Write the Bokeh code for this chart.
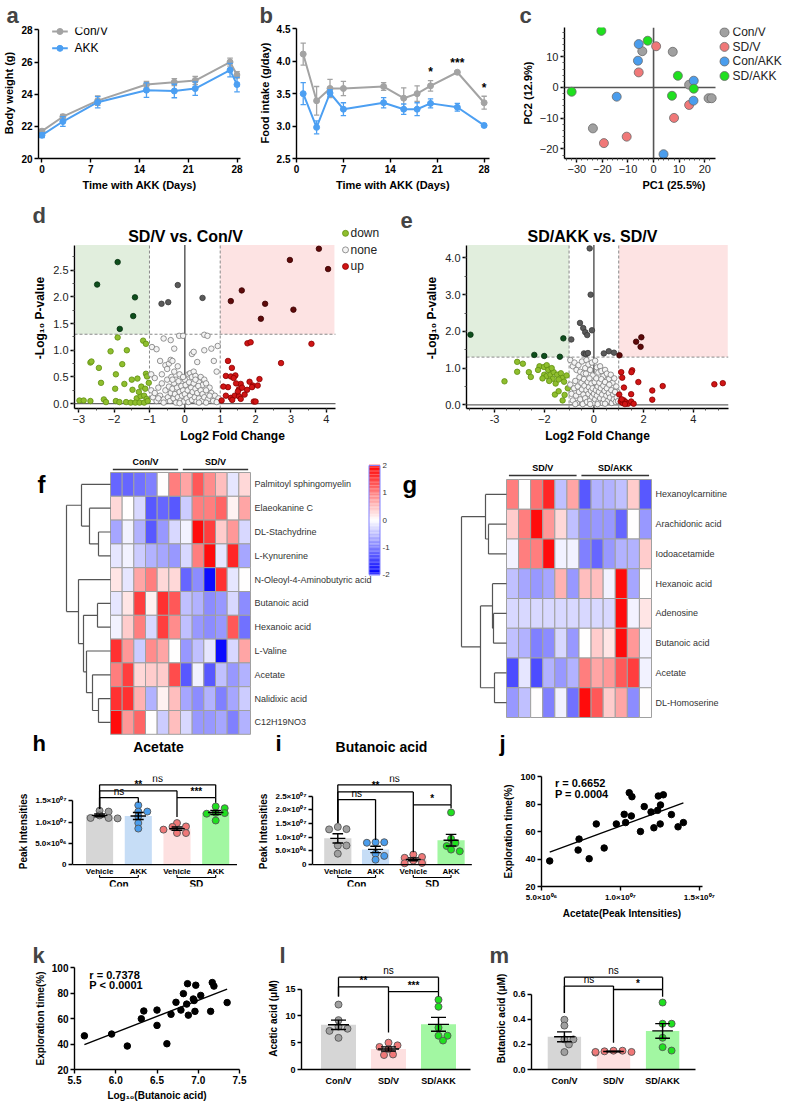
import numpy as np
from bokeh.plotting import figure
from bokeh.layouts import column, row
from bokeh.models import (ColumnDataSource, FixedTicker, LinearColorMapper,
                          BoxAnnotation, Range1d, PrintfTickFormatter)
from bokeh.core.properties import value
from bokeh.embed import file_html
from bokeh.resources import INLINE

FONT = "Liberation Sans"

# ---------------- data ----------------
# (a) body weight
days_a = [0, 3, 8, 15, 19, 22, 27, 28]
bw_conv = [21.7, 22.6, 23.6, 24.6, 24.75, 24.85, 26.0, 25.2]
bw_conv_sem = [0.12, 0.15, 0.3, 0.2, 0.22, 0.25, 0.25, 0.2]
bw_akk = [21.45, 22.3, 23.5, 24.25, 24.2, 24.35, 25.5, 24.6]
bw_akk_sem = [0.15, 0.3, 0.35, 0.45, 0.42, 0.42, 0.42, 0.45]
ab_groups = ["Con/V", "AKK"]

# (b) food intake
days_b = [1, 3, 5, 7, 13, 16, 18, 20, 24, 28]
fi_conv = [4.11, 3.39, 3.58, 3.58, 3.61, 3.43, 3.50, 3.62, 3.83, 3.36]
fi_conv_sem = [0.17, 0.22, 0.14, 0.11, 0.06, 0.16, 0.12, 0.08, 0.02, 0.10]
fi_akk = [3.50, 2.98, 3.51, 3.26, 3.36, 3.26, 3.26, 3.35, 3.29, 3.01]
fi_akk_sem = [0.17, 0.10, 0.05, 0.10, 0.08, 0.08, 0.10, 0.07, 0.06, 0.02]
b_star_days = [20, 24, 28]
b_star_text = ["*", "***", "*"]

# (c) PCA
pca_groups = ["Con/V", "SD/V", "Con/AKK", "SD/AKK"]
pc1 = {
    "Con/V": [-4.4, 7.5, 13.9, 21.5, 22.7, -23.7],
    "SD/V": [1.0, -5.8, 13.9, 8.0, -10.5, -19.4],
    "Con/AKK": [-5.8, -6.1, 15.7, 15.6, -14.4, 3.9],
    "SD/AKK": [-20.4, -2.3, 9.5, 15.7, 7.2, -32.0],
}
pc2 = {
    "Con/V": [11.8, 11.6, 0.9, -3.5, -3.5, -13.3],
    "SD/V": [13.4, 4.9, -5.7, -9.9, -16.0, -18.1],
    "Con/AKK": [14.1, 8.7, 2.2, -4.3, -3.0, -21.7],
    "SD/AKK": [18.4, 15.2, 3.8, -0.4, -2.7, -1.4],
}

# (d) volcano SD/V vs Con/V  (log2FC, -log10 P)
d_down_sig = [(-2.48, 2.23), (-1.90, 2.65), (-1.41, 1.99), (-1.46, 1.64), (-1.84, 1.40)]
d_none_sig = [(-0.20, 2.22), (-0.47, 1.90), (-0.66, 1.87), (0.50, 1.98)]
d_up_sig = [(3.79, 2.90), (2.97, 2.69), (4.05, 2.52), (1.61, 2.12), (1.30, 1.92),
            (2.27, 1.87), (3.07, 1.76), (2.15, 1.59)]
d_down = [(-1.90, 1.24), (-1.18, 1.18), (-1.10, 1.12), (-2.10, 0.98), (-1.64, 1.00),
          (-2.67, 0.77), (-2.64, 0.79), (-1.77, 0.74), (-2.43, 0.67), (-1.95, 0.55),
          (-1.10, 0.56), (-1.07, 0.51), (-1.34, 0.47), (-1.50, 0.45), (-2.37, 0.39),
          (-1.02, 0.39), (-1.71, 0.37), (-1.23, 0.32), (-1.97, 0.28), (-1.48, 0.26),
          (-2.29, 0.08), (-2.98, 0.06), (-2.86, 0.06), (-2.67, 0.05), (-2.23, 0.03),
          (-1.95, 0.05), (-1.85, 0.03), (-1.66, 0.03), (-1.53, 0.02), (-1.36, 0.10),
          (-1.25, 0.14), (-1.15, 0.15), (-1.08, 0.09), (-1.40, 0.02), (-1.28, 0.02),
          (-1.15, 0.02), (-1.05, 0.05), (-1.12, 0.28), (-1.30, 0.22)]
d_up = [(1.77, 1.13), (1.86, 1.15), (3.58, 1.12), (2.72, 0.76), (1.22, 0.80), (1.33, 0.67),
        (1.16, 0.52), (1.30, 0.51), (1.43, 0.53), (1.38, 0.48), (2.11, 0.46), (1.83, 0.41),
        (1.58, 0.37), (1.92, 0.34), (1.90, 0.31), (1.53, 0.27), (1.22, 0.31), (1.09, 0.32),
        (1.76, 0.26), (2.06, 0.34), (1.16, 0.15), (1.30, 0.11), (1.41, 0.15), (1.53, 0.14),
        (1.58, 0.09), (1.69, 0.17), (1.04, 0.06), (1.95, 0.04), (2.00, 0.04), (1.50, 0.23),
        (1.34, 0.07), (1.45, 0.38), (1.62, 0.30)]
d_none = [(-0.16, 1.27), (0.55, 1.29), (0.64, 1.27),
          (-0.93, 1.06), (-0.80, 1.02), (-0.60, 1.22), (-0.40, 1.19), (-0.30, 1.03), (-0.05, 1.27),
          (0.20, 0.93), (0.25, 0.97), (0.35, 0.78), (0.55, 1.00), (0.75, 1.03), (0.82, 0.80),
          (0.93, 1.08), (0.90, 0.60), (-0.95, 0.55), (-0.85, 0.48), (-0.70, 0.80), (-0.65, 0.55),
          (-0.55, 0.72), (-0.50, 0.65), (-0.45, 0.75), (-0.40, 0.82), (-0.35, 0.80), (-0.30, 0.60),
          (-0.25, 0.45), (-0.20, 0.70), (-0.15, 0.55), (-0.10, 0.40), (0.00, 0.45), (0.05, 0.30),
          (0.10, 0.55), (0.15, 0.57), (0.20, 0.50), (0.25, 0.60), (0.30, 0.52), (0.40, 0.40),
          (0.45, 0.50), (0.50, 0.35), (0.55, 0.45), (0.60, 0.38), (0.70, 0.30), (0.75, 0.20),
          (0.85, 0.15), (0.95, 0.10), (-0.95, 0.25), (-0.90, 0.12), (-0.85, 0.20), (-0.80, 0.05),
          (-0.75, 0.30), (-0.70, 0.15), (-0.65, 0.38), (-0.60, 0.08), (-0.55, 0.25), (-0.50, 0.45),
          (-0.48, 0.12), (-0.45, 0.32), (-0.42, 0.05), (-0.40, 0.20), (-0.38, 0.50), (-0.35, 0.28),
          (-0.32, 0.10), (-0.30, 0.38), (-0.28, 0.18), (-0.25, 0.02), (-0.22, 0.30), (-0.20, 0.12),
          (-0.18, 0.42), (-0.15, 0.22), (-0.12, 0.06), (-0.10, 0.33), (-0.08, 0.15), (-0.05, 0.25),
          (-0.03, 0.04), (0.00, 0.18), (0.02, 0.35), (0.05, 0.10), (0.08, 0.25), (0.10, 0.03),
          (0.12, 0.40), (0.15, 0.15), (0.18, 0.30), (0.20, 0.07), (0.22, 0.22), (0.25, 0.38),
          (0.28, 0.12), (0.30, 0.28), (0.33, 0.04), (0.35, 0.20), (0.38, 0.33), (0.40, 0.10),
          (0.45, 0.25), (0.48, 0.05), (0.50, 0.18), (0.55, 0.12), (0.60, 0.25), (0.65, 0.08),
          (0.70, 0.15), (0.80, 0.05), (0.90, 0.03), (-0.60, 0.02), (-0.15, 0.01), (0.40, 0.02),
          (-0.35, 0.45), (-0.05, 0.50), (0.30, 0.45), (-0.75, 0.10), (0.60, 0.02)]
volcano_classes = ["down", "none", "up"]

# (e) volcano SD/AKK vs SD/V
e_down_sig = [(-4.97, 1.91), (-1.23, 1.81), (-2.40, 1.36), (-2.00, 1.33), (-1.37, 1.31)]
e_none_sig = [(-0.17, 4.26), (-0.13, 3.00), (-0.56, 2.23), (-0.43, 2.09), (-0.35, 1.98),
              (-0.27, 1.90), (-0.08, 2.03), (-0.91, 1.78), (-0.40, 1.40), (-0.32, 1.38),
              (-0.24, 1.41), (0.40, 1.40), (0.60, 1.46), (0.81, 1.42)]
e_up_sig = [(1.70, 1.72), (1.91, 1.84), (1.88, 1.58), (1.03, 1.35)]
e_down = [(-3.09, 1.17), (-2.86, 1.12), (-3.09, 0.90), (-2.62, 0.89), (-2.54, 0.76),
          (-3.60, 0.64), (-2.19, 1.05), (-2.01, 1.03), (-1.90, 1.08), (-1.84, 0.95),
          (-2.00, 0.82), (-1.91, 0.78), (-1.75, 0.82), (-1.62, 0.89), (-1.48, 0.82),
          (-1.33, 0.86), (-1.26, 0.73), (-1.54, 0.58), (-1.42, 0.69), (-1.20, 0.63),
          (-1.57, 0.28), (-1.42, 0.37), (-1.18, 0.27), (-1.26, 0.12), (-1.66, 0.71),
          (-2.07, 0.72), (-1.80, 0.65), (-1.10, 0.80), (-1.05, 0.45), (-2.25, 0.95), (-1.70, 1.00)]
e_up = [(1.10, 0.89), (1.54, 0.94), (1.51, 0.89), (1.14, 0.74), (1.79, 0.62), (1.21, 0.47),
        (2.35, 0.39), (2.77, 0.51), (2.35, 0.14), (1.50, 0.29), (4.85, 0.56), (5.19, 0.59),
        (1.02, 0.28), (1.08, 0.09), (1.16, 0.05), (1.21, 0.12), (1.29, 0.07), (1.37, 0.03),
        (1.50, 0.09), (1.60, 0.03), (1.12, 0.15), (1.25, 0.02)]
e_none = [(-0.95, 1.22), (-0.85, 1.05), (-0.78, 1.15), (-0.70, 0.95), (-0.62, 1.08), (-0.55, 0.90),
          (-0.48, 1.18), (-0.42, 0.85), (-0.35, 1.00), (-0.30, 1.22), (-0.22, 1.10), (-0.15, 0.95),
          (-0.08, 1.15), (-0.05, 0.80), (0.05, 1.20), (0.12, 1.02), (0.18, 0.88), (0.25, 1.05),
          (0.30, 0.92), (0.38, 0.78), (0.45, 0.95), (0.52, 0.85), (0.60, 0.70), (0.68, 0.82),
          (0.75, 0.60), (0.82, 0.72), (0.90, 0.50), (0.95, 0.35), (-0.95, 0.55), (-0.90, 0.30),
          (-0.85, 0.12), (-0.80, 0.45), (-0.75, 0.65), (-0.72, 0.25), (-0.68, 0.05), (-0.65, 0.50),
          (-0.60, 0.35), (-0.58, 0.75), (-0.55, 0.15), (-0.50, 0.60), (-0.48, 0.42), (-0.45, 0.02),
          (-0.42, 0.28), (-0.40, 0.70), (-0.38, 0.52), (-0.35, 0.18), (-0.32, 0.85), (-0.30, 0.40),
          (-0.28, 0.08), (-0.25, 0.62), (-0.22, 0.30), (-0.20, 0.48), (-0.18, 0.72), (-0.15, 0.12),
          (-0.12, 0.38), (-0.10, 0.58), (-0.08, 0.22), (-0.05, 0.45), (-0.03, 0.05), (0.00, 0.30),
          (0.03, 0.62), (0.05, 0.15), (0.08, 0.40), (0.10, 0.72), (0.12, 0.25), (0.15, 0.50),
          (0.18, 0.08), (0.20, 0.35), (0.22, 0.60), (0.25, 0.18), (0.28, 0.45), (0.30, 0.70),
          (0.33, 0.28), (0.35, 0.05), (0.38, 0.52), (0.40, 0.15), (0.43, 0.38), (0.45, 0.62),
          (0.50, 0.25), (0.52, 0.45), (0.55, 0.10), (0.60, 0.32), (0.62, 0.55), (0.65, 0.20),
          (0.70, 0.40), (0.72, 0.05), (0.78, 0.28), (0.80, 0.15), (0.85, 0.35), (0.88, 0.08),
          (0.92, 0.20), (0.97, 0.10), (-0.15, 0.02), (0.15, 0.02), (0.45, 0.03), (-0.75, 0.02)]

# (f) heatmap SD/V vs Con/V (z-scores)
f_groups = ["Con/V", "SD/V"]
f_rows = ["Palmitoyl sphingomyelin", "Elaeokanine C", "DL-Stachydrine", "L-Kynurenine",
          "N-Oleoyl-4-Aminobutyric acid", "Butanoic acid", "Hexanoic acid", "L-Valine",
          "Acetate", "Nalidixic acid", "C12H19NO3"]
f_values = [
    [-1.2, -1.2, -1.1, -1.0, 0.0, 1.0, 0.7, 1.3, 0.9, 0.5, -0.2, 0.3],
    [0.3, 0.0, -0.3, -1.3, -1.2, -1.3, -0.4, 1.0, 1.0, 1.2, 0.1, 0.7],
    [-0.7, -0.1, -0.6, -1.3, -0.8, -0.3, -0.1, 1.9, 1.5, 0.4, 0.8, -0.3],
    [-0.2, -0.1, -0.4, -0.6, -0.7, -0.8, -0.3, 1.0, 1.9, -0.2, 1.7, -0.7],
    [0.2, -0.2, 0.7, 1.0, 0.3, 0.3, -1.2, -0.9, -1.9, 1.6, -0.2, 0.0],
    [-0.2, 0.2, 1.5, 0.1, 1.6, 1.3, -0.5, -0.6, -0.9, -0.8, -0.3, -0.9],
    [-0.1, 0.4, 1.0, -0.3, 1.5, 0.9, -0.5, -0.8, -0.9, -0.8, 1.3, -1.1],
    [1.6, 0.8, -0.4, 0.9, 0.7, 0.0, -0.8, -0.5, -0.2, -1.9, -0.3, 0.7],
    [1.0, 1.5, 0.3, 0.4, 0.4, 1.4, -1.3, -0.1, -1.3, -0.5, -0.8, -0.6],
    [1.6, 1.6, 0.6, -0.6, 0.1, 0.5, -0.7, -0.9, -0.6, -1.0, -0.7, -0.4],
    [1.9, 0.8, 1.2, 0.0, -0.4, 0.5, -0.3, -0.8, -0.8, -0.7, -1.0, -0.6],
]
# dendrogram: (merge distance in px, left, right)
f_tree = (44, (29, 0, (21, 1, (12, 2, 3))),
          (32, 4, (27, (13, 5, 6), (24, 7, (18, 8, (12, 9, 10))))))
cbar_ticks = [-2, -1, 0, 1, 2]

# (g) heatmap SD/AKK vs SD/V
g_groups = ["SD/V", "SD/AKK"]
g_rows = ["Hexanoylcarnitine", "Arachidonic acid", "Iodoacetamide", "Hexanoic acid",
          "Adenosine", "Butanoic acid", "Acetate", "DL-Homoserine"]
g_values = [
    [1.0, 0.0, 1.1, 1.7, -0.5, 0.7, -1.3, -0.6, -0.6, -0.5, 0.4, -1.3],
    [0.4, 1.0, 1.9, 0.8, 0.3, -0.5, -0.9, -0.8, -0.8, -1.2, 0.0, -0.8],
    [-0.1, 1.0, 1.0, 1.9, -0.1, -0.1, -1.0, -1.2, -0.8, -0.6, -0.6, 0.4],
    [-0.5, -0.7, -0.8, -0.7, 0.6, -0.8, 0.5, 0.5, -0.1, 1.9, -0.7, 0.0],
    [-0.3, -0.3, -0.3, -0.3, -0.3, -0.3, -0.3, -0.3, -0.3, 1.9, -0.1, 0.2],
    [-0.5, -0.6, -1.0, -0.9, -0.3, -0.8, 0.0, 0.4, 0.2, 1.9, 0.8, -0.1],
    [-1.4, -0.2, -1.4, -0.6, -0.8, -0.6, 1.0, 0.7, 0.8, 1.3, 1.5, -0.1],
    [-0.8, -0.5, 0.0, -1.0, -0.1, -1.1, 1.9, 1.3, 0.4, 0.7, -0.9, 0.0],
]
g_tree = (45, (21, 0, (18, 1, 2)), (26, (14, 3, (13, 4, 5)), (12, 6, 7)))

# (h) acetate peak intensities
h_cats = ["Vehicle", "AKK", "Vehicle", "AKK"]
h_supergroups = ["Con", "SD"]
h_conv = [12.5e6, 12.7e6, 11.6e6, 11.0e6, 10.9e6, 11.0e6]
h_conakk = [14.0e6, 12.5e6, 12.5e6, 11.4e6, 9.8e6, 8.5e6]
h_sdv = [9.8e6, 8.9e6, 9.0e6, 8.25e6, 7.45e6, 7.45e6]
h_sdakk = [13.3e6, 13.7e6, 12.15e6, 12.0e6, 12.2e6, 10.4e6]
h_sig = [(0, 1, 15.8e6, 13.1e6, 14.6e6, "ns"), (0, 2, 17.4e6, 13.1e6, 11.2e6, "**"),
         (2, 3, 15.8e6, 15.8e6, 14.6e6, "***"), (0, 3, 18.8e6, 13.1e6, 15.8e6, "ns")]

# (i) butanoic acid peak intensities
i_conv = [13.8e6, 12.9e6, 13.0e6, 7.0e6, 7.0e6, 4.0e6]
i_conakk = [8.2e6, 8.2e6, 8.0e6, 4.0e6, 3.2e6, 1.8e6]
i_sdv = [3.7e6, 2.8e6, 2.5e6, 1.5e6, 0.6e6, 0.5e6]
i_sdakk = [19.1e6, 9.5e6, 7.9e6, 6.8e6, 4.9e6, 5.5e6]
i_sig = [(0, 1, 23.8e6, 15.2e6, 9.0e6, "ns"), (0, 2, 26.6e6, 15.2e6, 4.5e6, "**"),
         (2, 3, 21.9e6, 21.9e6, 20.6e6, "*"), (0, 3, 29.2e6, 15.2e6, 21.9e6, "ns")]

# (j) acetate vs exploration
acet_x = [5.52e6, 7.32e6, 7.38e6, 8.02e6, 8.47e6, 8.97e6, 9.74e6, 10.24e6, 10.33e6, 10.56e6,
          10.73e6, 10.69e6, 11.27e6, 11.51e6, 11.94e6, 12.12e6, 12.36e6, 12.40e6, 12.54e6,
          12.52e6, 12.72e6, 13.23e6, 13.65e6, 13.99e6]
expl_j = [38.6, 46.5, 54.5, 40.2, 65.5, 48.0, 65.5, 72.5, 66.5, 88.2, 85.3, 71.3, 60.0, 78.1,
          74.2, 62.7, 75.4, 85.8, 79.3, 65.5, 86.7, 72.3, 63.4, 66.5]

# (k) log10 butanoic vs exploration
buty_log = [5.62, 5.95, 6.14, 6.31, 6.34, 6.50, 6.50, 6.62, 6.67, 6.73, 6.79, 6.82, 6.86, 6.87,
            6.88, 6.94, 6.95, 6.96, 6.97, 7.03, 7.15, 7.17, 7.19, 7.35]
expl_k = [46.4, 47.8, 38.4, 59.8, 65.9, 66.6, 54.6, 40.2, 63.3, 72.7, 66.6, 79.5, 71.3, 87.3,
          62.6, 75.3, 74.1, 65.6, 86.1, 78.1, 65.6, 88.2, 85.4, 72.5]

# (l) acetic acid, (m) butanoic acid (uM)
lm_cats = ["Con/V", "SD/V", "SD/AKK"]
l_conv = [12.1, 9.2, 8.0, 7.6, 7.2, 5.9]
l_sdv = [4.5, 5.0, 4.2, 3.8, 2.8, 2.7]
l_sdakk = [13.0, 11.7, 7.8, 6.3, 6.3, 5.4]
l_sig = [(0, 1, 15.4, 13.6, 6.9, "**"), (1, 2, 14.5, 14.5, 13.6, "***"),
         (0, 2, 17.2, 13.6, 14.5, "ns")]
m_conv = [0.397, 0.35, 0.24, 0.24, 0.20, 0.139]
m_sdv = [0.15, 0.145, 0.14, 0.135, 0.14, 0.15]
m_sdakk = [0.534, 0.365, 0.365, 0.253, 0.178, 0.151]
m_sig = [(0, 1, 0.665, 0.45, 0.213, "ns"), (1, 2, 0.638, 0.638, 0.58, "*"),
         (0, 2, 0.736, 0.45, 0.638, "ns")]

# ---------------- style ----------------
GRAY_L = "#a3a3a3"
BLUE_L = "#4c9ff2"
PCA_COL = {"Con/V": "#a0a0a0", "SD/V": "#f07878", "Con/AKK": "#4a9ded", "SD/AKK": "#1fe01f"}
BAR_FILL = {"Con/V": "#d6d6d6", "Con/AKK": "#c6ddf6", "SD/V": "#fde0e0", "SD/AKK": "#a2f7a2"}
PT_FILL = {"Con/V": "#a0a0a0", "Con/AKK": "#4a9ded", "SD/V": "#f07878", "SD/AKK": "#1fe01f"}
VOL_COL = {"down": ("#8fbe2e", "#5f8f10"), "none": ("#f4f4f4", "#7a7a7a"), "up": ("#d01515", "#8a0000")}
VOL_SIG = {"down": ("#0e4f1c", "#063010"), "none": ("#5a5a5a", "#3a3a3a"), "up": ("#5e0a0a", "#3a0000")}
F1 = PrintfTickFormatter(format="%.1f")


def mkfig(w, h, l, r, t, b, xr, yr, **kw):
    p = figure(width=w, height=h, x_range=Range1d(*xr), y_range=Range1d(*yr),
               output_backend="svg", toolbar_location=None,
               min_border_left=l, min_border_right=r, min_border_top=t, min_border_bottom=b, **kw)
    p.outline_line_color = None
    p.xgrid.visible = False
    p.ygrid.visible = False
    p.background_fill_color = "white"
    p.border_fill_color = "white"
    p._fh = h - t - b
    p._fw = w - l - r
    return p


def X(p, px):
    return p.x_range.start + px * (p.x_range.end - p.x_range.start) / p._fw


def Y(p, px):
    return p.y_range.end - px * (p.y_range.end - p.y_range.start) / p._fh


def style_axes(p, tick_size="10px", tick_bold=True, label_size="11px", tick_color="black"):
    for ax in list(p.xaxis) + list(p.yaxis):
        ax.axis_line_width = 1.4
        ax.axis_line_color = "black"
        ax.major_tick_line_width = 1.4
        ax.major_tick_line_color = "black"
        ax.major_tick_in = 0
        ax.major_tick_out = 4
        ax.minor_tick_line_color = None
        ax.major_label_text_font = FONT
        ax.major_label_text_font_size = tick_size
        ax.major_label_text_font_style = "bold" if tick_bold else "normal"
        ax.major_label_text_color = tick_color
        ax.axis_label_text_font = FONT
        ax.axis_label_text_font_size = label_size
        ax.axis_label_text_font_style = "bold"
        ax.axis_label_text_color = "black"
        ax.major_label_standoff = 2
        ax.axis_label_standoff = 3


def minor_on(p):
    for ax in list(p.xaxis) + list(p.yaxis):
        ax.minor_tick_line_color = "#555555"
        ax.minor_tick_out = 2
        ax.minor_tick_in = 0


def letter(p, txt, off):
    p.title.text = txt
    p.title.align = "left"
    p.title.offset = off
    p.title.text_font = FONT
    p.title.text_font_size = "22px"
    p.title.text_font_style = "bold"
    p.title.standoff = 0


def ptext(p, x, y, t, size="10px", style="bold", align="center", baseline="bottom", yoff=0, color="black"):
    p.text(x=x, y=y, text=t, text_font=value(FONT), text_font_size=size, text_font_style=style,
           text_align=align, text_baseline=baseline, y_offset=yoff, text_color=color)


def errbars(p, xs, ys, es, col, capw, lw=1.3):
    xs = np.asarray(xs, float); ys = np.asarray(ys, float); es = np.asarray(es, float)
    p.segment(x0=xs, y0=ys - es, x1=xs, y1=ys + es, line_color=col, line_width=lw)
    for yy in (ys - es, ys + es):
        p.segment(x0=xs - capw / 2, y0=yy, x1=xs + capw / 2, y1=yy, line_color=col, line_width=lw)


def swarm(vals, ppx, ppy, d=7.5):
    vals = np.asarray(vals, float)
    order = np.argsort(-vals)
    placed = []
    offs = np.zeros(len(vals))
    for i in order:
        y = vals[i] * ppy
        x = 0.0
        for k in [0, 1, -1, 2, -2, 3, -3, 4, -4]:
            x = k * d * 0.6
            if all((x - a) ** 2 + (y - b) ** 2 >= d * d * 0.9 for a, b in placed):
                break
        placed.append((x, y))
        offs[i] = x / ppx
    return offs


def bar_panel(p, groups, keys, bw, capw, meanw, ptsize=7):
    ppx = p._fw / (p.x_range.end - p.x_range.start)
    ppy = p._fh / (p.y_range.end - p.y_range.start)
    for x, (vals, key) in enumerate(zip(groups, keys)):
        vals = np.asarray(vals, float)
        m = vals.mean()
        sem = vals.std(ddof=1) / np.sqrt(len(vals))
        p.vbar(x=[x], top=[m], bottom=0, width=bw, fill_color=BAR_FILL[key], line_color=None)
        offs = swarm(vals, ppx, ppy, ptsize + 0.5)
        p.scatter(x + offs, vals, size=ptsize, fill_color=PT_FILL[key], line_color="#555555",
                  line_width=0.9)
        p.segment(x0=[x], y0=[m - sem], x1=[x], y1=[m + sem], line_color="black", line_width=1.4)
        p.segment(x0=[x - capw / 2, x - capw / 2], y0=[m - sem, m + sem],
                  x1=[x + capw / 2, x + capw / 2], y1=[m - sem, m + sem], line_color="black", line_width=1.4)
        p.segment(x0=[x - meanw / 2], y0=[m], x1=[x + meanw / 2], y1=[m], line_color="black", line_width=1.4)


def brackets(p, specs, size="10px"):
    for (i, j, y, yl, yr, lab) in specs:
        p.segment(x0=[i, i, j], y0=[y, y, y], x1=[j, i, j], y1=[y, yl, yr],
                  line_color="black", line_width=1.3)
        st = "normal" if lab == "ns" else "bold"
        ptext(p, [(i + j) / 2], [y], [lab], size=size, style=st, baseline="bottom", yoff=-1)


def manual_cat_axis(p, labels, supergroups):
    ppy = (p.y_range.end - p.y_range.start) / p._fh
    n = len(labels)
    p.segment(x0=[p.x_range.start], y0=[0], x1=[n - 0.45], y1=[0], line_color="black", line_width=1.4)
    ptext(p, list(range(n)), [-4 * ppy] * n, labels, size="8px", baseline="top")
    for gi, g in enumerate(supergroups):
        a, b = 2 * gi, 2 * gi + 1
        p.segment(x0=[a, a, b], y0=[-20 * ppy, -16 * ppy, -16 * ppy], x1=[b, a, b],
                  y1=[-20 * ppy, -20 * ppy, -20 * ppy], line_color="black", line_width=1.2)
        ptext(p, [(a + b) / 2], [-22 * ppy], [g], size="10px", baseline="top")


def sci_label(v):
    sup = str.maketrans("0123456789", "⁰¹²³⁴⁵⁶⁷⁸⁹")
    if v == 0:
        return "0"
    e = int(np.floor(np.log10(v)))
    m = v / 10 ** e
    return f"{m:.1f}×10" + f"{e:02d}".translate(sup)


# ================= row 1 =================
pa = mkfig(255, 200, 33, 15, 26, 42, (-0.5, 28.5), (20, 28.15))
style_axes(pa)
pa.xaxis.ticker = FixedTicker(ticks=[0, 7, 14, 21, 28])
pa.yaxis.ticker = FixedTicker(ticks=[20, 22, 24, 26, 28])
pa.yaxis.bounds = (20, 28)
pa.xaxis.axis_label = "Time with AKK (Days)"
pa.yaxis.axis_label = "Body weight (g)"
for k, (ys_, es_, col) in enumerate([(bw_conv, bw_conv_sem, GRAY_L), (bw_akk, bw_akk_sem, BLUE_L)]):
    errbars(pa, days_a, ys_, es_, col, 0.8)
    pa.line(days_a, ys_, line_color=col, line_width=2)
    pa.scatter(days_a, ys_, size=6, fill_color=col, line_color=col)
    ly = Y(pa, 4 + 17 * k)
    pa.line([X(pa, 14), X(pa, 30)], [ly, ly], line_color=col, line_width=2)
    pa.scatter([X(pa, 22)], [ly], size=6, fill_color=col, line_color=col)
    ptext(pa, [X(pa, 37)], [ly], [ab_groups[k]], size="12px", style="normal", align="left", baseline="middle")
letter(pa, "a", -32)

pb = mkfig(257, 200, 39, 23, 27, 42, (0, 28.8), (2.5, 4.52))
style_axes(pb)
pb.xaxis.ticker = FixedTicker(ticks=[0, 7, 14, 21, 28])
pb.yaxis.ticker = FixedTicker(ticks=[2.5, 3.0, 3.5, 4.0, 4.5])
pb.yaxis.formatter = F1
pb.yaxis.bounds = (2.5, 4.5)
pb.xaxis.axis_label = "Time with AKK (Days)"
pb.yaxis.axis_label = "Food intake (g/day)"
for ys_, es_, col in [(fi_conv, fi_conv_sem, GRAY_L), (fi_akk, fi_akk_sem, BLUE_L)]:
    errbars(pb, days_b, ys_, es_, col, 0.8)
    pb.line(days_b, ys_, line_color=col, line_width=2)
    pb.scatter(days_b, ys_, size=6, fill_color=col, line_color=col)
star_y = [fi_conv[days_b.index(d)] + fi_conv_sem[days_b.index(d)] + 0.02 for d in b_star_days]
ptext(pb, b_star_days, star_y, b_star_text, size="12px", baseline="bottom")
letter(pb, "b", -37)

c_xl, c_xr, c_yb, c_yt = -34.8, 24.2, -23.1, 19.5
pc = mkfig(272, 200, 52, 1, 26, 39, (c_xl, c_xr + 68 * (c_xr - c_xl) / 151), (c_yb, c_yt))
style_axes(pc, tick_size="11px", tick_bold=False, tick_color="#222222")
minor_on(pc)
pc.xaxis.ticker = FixedTicker(ticks=[-30, -20, -10, 0, 10, 20], minor_ticks=list(range(-34, 24, 2)))
pc.yaxis.ticker = FixedTicker(ticks=[-20, -10, 0, 10], minor_ticks=list(range(-22, 20, 2)))
pc.xaxis.bounds = (c_xl, c_xr)
pc.xaxis.axis_label = "PC1 (25.5%)"
pc.yaxis.axis_label = "PC2 (12.9%)"
pc.segment(x0=[0, c_xl], y0=[c_yb, 0], x1=[0, c_xr], y1=[c_yt, 0], line_color="#555555", line_width=1.6)
for k, g in enumerate(pca_groups):
    pc.scatter(pc1[g], pc2[g], size=9, fill_color=PCA_COL[g], line_color="#6a6a6a", line_width=0.8)
    ly = Y(pc, 5 + 15 * k)
    pc.scatter([X(pc, 160)], [ly], size=9, fill_color=PCA_COL[g], line_color="#6a6a6a", line_width=0.8)
    ptext(pc, [X(pc, 168)], [ly], [g], size="12px", style="normal", align="left", baseline="middle",
          color="#222222")
letter(pc, "c", -45)


# ================= row 2 =================
def volcano(p, xl, xr, yb, yt, groups, title, tx):
    p.add_layout(BoxAnnotation(left=xl + 0.04, right=-1, bottom=1.3, top=yt, fill_color="#e1eedd",
                               fill_alpha=1, line_color=None, level="underlay"))
    p.add_layout(BoxAnnotation(left=1, right=xr - 0.03, bottom=1.3, top=yt, fill_color="#fde3e3",
                               fill_alpha=1, line_color=None, level="underlay"))
    p.segment(x0=[-1, 1, xl], y0=[yb, yb, 1.3], x1=[-1, 1, xr], y1=[yt, yt, 1.3],
              line_color="#8a8a8a", line_dash="3 2", line_width=1)
    p.segment(x0=[0], y0=[yb], x1=[0], y1=[yt], line_color="#444444", line_width=1.3)
    p.segment(x0=[xl], y0=[0], x1=[xr], y1=[0], line_color="#666666", line_width=1.3)
    for cls in volcano_classes:
        pts, sig = groups[cls]
        fc, lc = VOL_COL[cls]
        p.scatter([q[0] for q in pts], [q[1] for q in pts], size=5.5, fill_color=fc, line_color=lc,
                  line_width=0.8)
        fc, lc = VOL_SIG[cls]
        p.scatter([q[0] for q in sig], [q[1] for q in sig], size=5.5, fill_color=fc, line_color=lc,
                  line_width=0.8)
    p.xaxis.bounds = (xl, xr)
    p.yaxis.bounds = (yb, yt)
    minor_on(p)
    ptext(p, [X(p, tx)], [Y(p, 0)], [title], size="16px", baseline="top")


d_xl, d_xr, d_yb, d_yt = -3.12, 4.26, -0.09, 2.97
d_ppu = 261 / (d_xr - d_xl)
d_upp = (d_yt - d_yb) / 168
pdv = mkfig(392, 245, 74, 2, 26, 33, (d_xl, d_xr + 55 / d_ppu), (d_yb, d_yt + 18 * d_upp))
style_axes(pdv, tick_size="11px", tick_bold=False, label_size="12px", tick_color="#222222")
pdv.xaxis.ticker = FixedTicker(ticks=[-3, -2, -1, 0, 1, 2, 3, 4],
                               minor_ticks=[-3, -2.5, -2, -1.5, -1, -0.5, 0, 0.5, 1, 1.5, 2, 2.5, 3, 3.5, 4])
pdv.yaxis.ticker = FixedTicker(ticks=[0, 0.5, 1.0, 1.5, 2.0, 2.5],
                               minor_ticks=[0.25 * k for k in range(0, 12)])
pdv.yaxis.formatter = F1
pdv.xaxis.axis_label = "Log2 Fold Change"
pdv.yaxis.axis_label = "-Log₁₀ P-value"
volcano(pdv, d_xl, d_xr, d_yb, d_yt,
        {"down": (d_down, d_down_sig), "none": (d_none, d_none_sig), "up": (d_up, d_up_sig)},
        "SD/V vs. Con/V", 111)
for k, cls in enumerate(volcano_classes):
    ly = Y(pdv, 6 + 17 * k)
    fc, lc = VOL_COL[cls]
    pdv.scatter([X(pdv, 271)], [ly], size=6, fill_color=fc, line_color=lc, line_width=0.8)
    ptext(pdv, [X(pdv, 276)], [ly], [cls], size="12px", style="normal", align="left", baseline="middle",
          color="#222222")
letter(pdv, "d", -42)

e_xl, e_xr, e_yb, e_yt = -5.13, 5.42, -0.1, 4.35
e_upp = (e_yt - e_yb) / 167
pe = mkfig(392, 245, 74, 56, 26, 34, (e_xl, e_xr), (e_yb, e_yt + 18 * e_upp))
style_axes(pe, tick_size="11px", tick_bold=False, label_size="12px", tick_color="#222222")
pe.xaxis.ticker = FixedTicker(ticks=[-4, -2, 0, 2, 4], minor_ticks=[k * 0.5 for k in range(-10, 11)])
pe.xaxis.major_label_overrides = {-4: "-3"}
pe.yaxis.ticker = FixedTicker(ticks=[0, 1, 2, 3, 4], minor_ticks=[k * 0.5 for k in range(0, 9)])
pe.yaxis.formatter = F1
pe.xaxis.axis_label = "Log2 Fold Change"
pe.yaxis.axis_label = "-Log₁₀ P-value"
volcano(pe, e_xl, e_xr, e_yb, e_yt,
        {"down": (e_down, e_down_sig), "none": (e_none, e_none_sig), "up": (e_up, e_up_sig)},
        "SD/AKK vs. SD/V", 126)
letter(pe, "e", -66)

# ================= row 3: heatmaps (+ labels of row 4) =================
palette = []
for t in np.linspace(0, 1, 256):
    if t < 0.5:
        k = t / 0.5
        rgb = (int(255 * k), int(255 * k), 255)
    else:
        k = (t - 0.5) / 0.5
        rgb = (255, int(255 * (1 - k)), int(255 * (1 - k)))
    palette.append("#%02x%02x%02x" % rgb)
mapper = LinearColorMapper(palette=palette, low=-2, high=2)


def heatmap(p, vals, names, tree, groups, hdr_line_px, hdr_text_px, top_px):
    n = len(names)
    m = len(vals[0])
    ppx = p._fw / (p.x_range.end - p.x_range.start)
    xs, ys, vs = [], [], []
    for r, rv in enumerate(vals):
        for c, v in enumerate(rv):
            xs.append(c); ys.append(n - 1 - r); vs.append(v)
    src = ColumnDataSource(dict(x=xs, y=ys, v=vs))
    p.rect("x", "y", 1, 1, source=src, fill_color={"field": "v", "transform": mapper},
           line_color="#a0a0a0", line_width=1)
    segs = []

    def rec(node):
        if isinstance(node, int):
            return n - 1 - node, -0.5
        h, a, b = node
        ya, xa = rec(a)
        yb, xb = rec(b)
        xn = -0.5 - h / ppx
        segs.append((xn, ya, xa, ya)); segs.append((xn, yb, xb, yb)); segs.append((xn, ya, xn, yb))
        return (ya + yb) / 2, xn
    rec(tree)
    p.segment(x0=[s[0] for s in segs], y0=[s[1] for s in segs], x1=[s[2] for s in segs],
              y1=[s[3] for s in segs], line_color="#555555", line_width=1.2)
    half = m // 2
    for gi, g in enumerate(groups):
        a = gi * half - 0.3
        b = gi * half + half - 0.7
        yl = Y(p, top_px - hdr_line_px)
        p.segment(x0=[a], y0=[yl], x1=[b], y1=[yl], line_color="#333333", line_width=1.3)
        ptext(p, [(a + b) / 2], [Y(p, top_px - hdr_text_px)], [g], size="9px", baseline="bottom")
    ptext(p, [m - 0.5 + 4 / ppx] * n, [n - 1 - r for r in range(n)], names, size="9px", style="normal",
          align="left", baseline="middle", color="#333333")


# f: figure covers x fx 0..430, y fy 445..759
RH = 314
f_ppx = 140 / 12
f_ppy = 261.8 / 11
f_top = 27
pf = mkfig(430, RH, 1, 1, 1, 1, (-0.5 - 109 / f_ppx, -0.5 - 109 / f_ppx + 428 / f_ppx),
           (10.5 + (f_top - 1) / f_ppy - (RH - 2) / f_ppy, 10.5 + (f_top - 1) / f_ppy),
           x_axis_location=None, y_axis_location=None)
heatmap(pf, f_values, f_rows, f_tree, f_groups, 3, 6, f_top - 1)
# colour bar (f)
cb_vals = np.linspace(-2, 2, 80)
cb_top, cb_bot = 19, 128
cb_y = [Y(pf, cb_bot - (v + 2) / 4 * (cb_bot - cb_top)) for v in cb_vals]
cb_h = (cb_bot - cb_top) / 79 * (pf.y_range.end - pf.y_range.start) / pf._fh
cb_cols = [palette[min(255, int((v + 2) / 4 * 256))] for v in cb_vals]
cb_x = X(pf, 373)
cb_w = 11 / f_ppx
pf.rect(x=[cb_x] * len(cb_vals), y=cb_y, width=cb_w, height=cb_h * 1.05, fill_color=cb_cols, line_color=None)
pf.rect(x=[cb_x], y=[(Y(pf, cb_top) + Y(pf, cb_bot)) / 2], width=cb_w, height=Y(pf, cb_top) - Y(pf, cb_bot),
        fill_color=None, line_color="#8080ff", line_width=1)
ptext(pf, [X(pf, 381)] * 5, [Y(pf, cb_bot - (v + 2) / 4 * (cb_bot - cb_top)) for v in cbar_ticks],
      [str(v) for v in cbar_ticks], size="8px", style="normal", align="left", baseline="middle", color="#333333")
# panel letters / titles
ptext(pf, [X(pf, 36)], [Y(pf, 24)], ["f"], size="24px", align="left", baseline="top")
ptext(pf, [X(pf, 401)], [Y(pf, 24)], ["g"], size="24px", align="left", baseline="top")
ptext(pf, [X(pf, 31)], [Y(pf, 284)], ["h"], size="22px", align="left", baseline="top")
ptext(pf, [X(pf, 274)], [Y(pf, 284)], ["i"], size="22px", align="left", baseline="top")
ptext(pf, [X(pf, 157)], [Y(pf, 292)], ["Acetate"], size="14px", baseline="top")
ptext(pf, [X(pf, 380)], [Y(pf, 292)], ["Butanoic acid"], size="14px", baseline="top")

# g: figure covers x fx 430..784
g_ppx = 145 / 12
g_ppy = 238 / 8
g_top = 34
pg = mkfig(354, RH, 1, 1, 1, 1, (-0.5 - 75 / g_ppx, -0.5 - 75 / g_ppx + 352 / g_ppx),
           (7.5 + (g_top - 1) / g_ppy - (RH - 2) / g_ppy, 7.5 + (g_top - 1) / g_ppy),
           x_axis_location=None, y_axis_location=None)
heatmap(pg, g_values, g_rows, g_tree, g_groups, 4, 7, g_top - 1)
ptext(pg, [X(pg, 68)], [Y(pg, 284)], ["j"], size="22px", align="left", baseline="top")

# ================= row 4 =================
R4 = 173
h_upp = 18.8e6 / 124
ph = mkfig(255, R4, 72, 10, 1, 1, (-0.7, 3.77), (-(R4 - 139) * h_upp, 137 * h_upp), x_axis_location=None)
style_axes(ph, tick_size="8px", label_size="10px")
ph.yaxis.ticker = FixedTicker(ticks=[0, 5000000, 10000000, 15000000])
ph.yaxis.major_label_overrides = {v: sci_label(v) for v in [0, 5000000, 10000000, 15000000]}
ph.yaxis.bounds = (0, 15e6)
ph.yaxis.axis_label = "Peak Intensities"
bar_panel(ph, [h_conv, h_conakk, h_sdv, h_sdakk], ["Con/V", "Con/AKK", "SD/V", "SD/AKK"], 0.7, 0.28, 0.4)
brackets(ph, h_sig, size="10px")
manual_cat_axis(ph, h_cats, h_supergroups)

i_upp = 29.2e6 / 124
pi_ = mkfig(243, R4, 51, 21, 1, 1, (-0.67, 3.7), (-(R4 - 139) * i_upp, 137 * i_upp), x_axis_location=None)
style_axes(pi_, tick_size="8px", label_size="10px")
i_ticks = [0, 5000000, 10000000, 15000000, 20000000, 25000000]
pi_.yaxis.ticker = FixedTicker(ticks=i_ticks)
pi_.yaxis.major_label_overrides = {v: sci_label(v) for v in i_ticks}
pi_.yaxis.bounds = (0, 25e6)
pi_.yaxis.axis_label = "Peak Intensities"
bar_panel(pi_, [i_conv, i_conakk, i_sdv, i_sdakk], ["Con/V", "Con/AKK", "SD/V", "SD/AKK"], 0.72, 0.28, 0.4)
brackets(pi_, i_sig, size="10px")
manual_cat_axis(pi_, h_cats, h_supergroups)


def corr_panel(p, xs, ys, rtxt, ptxt, tx, ty, dy):
    p.scatter(xs, ys, size=6.5, fill_color="black", line_color="black")
    a, b = np.polyfit(xs, ys, 1)
    x0, x1 = min(xs), max(xs)
    p.line([x0, x1], [a * x0 + b, a * x1 + b], line_color="black", line_width=1.4)
    ptext(p, [tx], [ty], [rtxt], size="11px", align="left", baseline="middle")
    ptext(p, [tx], [ty - dy], [ptxt], size="11px", align="left", baseline="middle")


pj = mkfig(286, R4, 43, 82, 17, 46, (5e6, 1.52e7), (20, 100))
style_axes(pj, tick_size="9px", label_size="10px")
pj.xaxis.ticker = FixedTicker(ticks=[5000000, 10000000, 15000000])
pj.xaxis.major_label_overrides = {v: sci_label(v) for v in [5000000, 10000000, 15000000]}
pj.xaxis.major_label_text_font_size = "8px"
pj.yaxis.ticker = FixedTicker(ticks=[20, 40, 60, 80, 100])
pj.xaxis.axis_label = "Acetate(Peak Intensities)"
pj.yaxis.axis_label = "Exploration time(%)"
corr_panel(pj, acet_x, expl_j, "r = 0.6652", "P = 0.0004", 5.85e6, 95.5, 8)

# ================= row 5 =================
R5 = 171
pk = mkfig(255, R5, 74, 16, 35, 29, (5.5, 7.5), (20, 100))
style_axes(pk, tick_size="10px", label_size="10px")
pk.xaxis.ticker = FixedTicker(ticks=[5.5, 6.0, 6.5, 7.0, 7.5])
pk.xaxis.formatter = F1
pk.yaxis.ticker = FixedTicker(ticks=[20, 40, 60, 80, 100])
pk.xaxis.axis_label = "Log₁₀(Butanoic acid)"
pk.yaxis.axis_label = "Exploration time(%)"
corr_panel(pk, buty_log, expl_k, "r = 0.7378", "P < 0.0001", 5.68, 94.5, 8.5)
letter(pk, "k", -42)

pl = mkfig(230, R5, 46, 15, 26, 19, (-0.74, 2.64), (0, 126 * 17.2 / 114))
style_axes(pl, tick_size="9px", label_size="10px")
pl.xaxis.ticker = FixedTicker(ticks=[0, 1, 2])
pl.xaxis.major_label_overrides = {i: c for i, c in enumerate(lm_cats)}
pl.xaxis.major_tick_line_color = None
pl.yaxis.ticker = FixedTicker(ticks=[0, 5, 10, 15])
pl.yaxis.bounds = (0, 15)
pl.yaxis.axis_label = "Acetic acid (μM)"
bar_panel(pl, [l_conv, l_sdv, l_sdakk], ["Con/V", "SD/V", "SD/AKK"], 0.7, 0.3, 0.42)
brackets(pl, l_sig, size="10px")
letter(pl, "l", -22)

pm = mkfig(299, R5, 46, 89, 26, 19, (-0.67, 2.67), (0, 126 * 0.736 / 114))
style_axes(pm, tick_size="9px", label_size="10px")
pm.xaxis.ticker = FixedTicker(ticks=[0, 1, 2])
pm.xaxis.major_label_overrides = {i: c for i, c in enumerate(lm_cats)}
pm.xaxis.major_tick_line_color = None
pm.yaxis.ticker = FixedTicker(ticks=[0, 0.2, 0.4, 0.6])
pm.yaxis.formatter = F1
pm.yaxis.bounds = (0, 0.6)
pm.yaxis.axis_label = "Butanoic acid (μM)"
bar_panel(pm, [m_conv, m_sdv, m_sdakk], ["Con/V", "SD/V", "SD/AKK"], 0.68, 0.3, 0.42)
brackets(pm, m_sig, size="10px")
letter(pm, "m", -42)

layout = column(row(pa, pb, pc), row(pdv, pe), row(pf, pg), row(ph, pi_, pj), row(pk, pl, pm))
open("out.html", "w").write(file_html(layout, INLINE))
